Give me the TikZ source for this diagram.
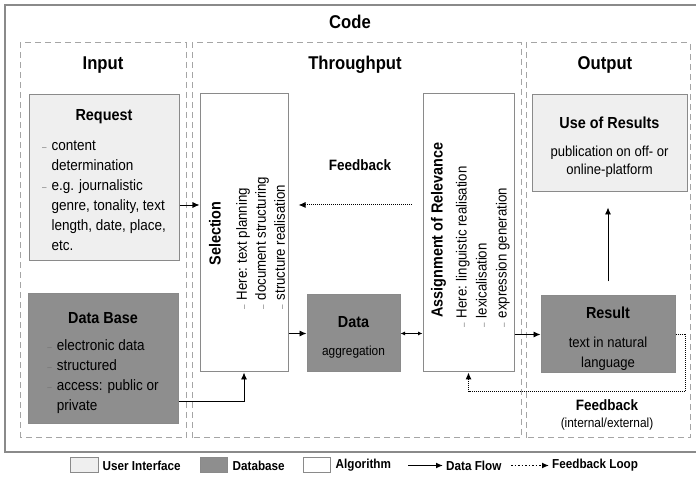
\documentclass[tikz,border=0pt]{standalone}
\usepackage{fontspec}
\setmainfont[FakeStretch=0.9]{Liberation Sans}
\usetikzlibrary{positioning, arrows, arrows.meta, shapes}

\definecolor{uiGray}{HTML}{EFEFEF}
\definecolor{dbGray}{HTML}{8E8E8E}
\definecolor{lineGray}{HTML}{8A8A8A}
\definecolor{dashGray}{HTML}{A5A5A5}

\newcommand{\headFont}{\fontsize{16}{19}\selectfont\bfseries}
\newcommand{\bodyFont}{\fontsize{15}{20}\selectfont}
\newcommand{\itemDash}{{\color{black!55}\small\textendash}}

\tikzstyle{uiRectangle} = [
    rectangle,
    draw=lineGray,
    fill=uiGray,
    line width=1pt,
    inner sep=0pt
    ]
\tikzstyle{dbRectangle} = [
    rectangle,
    draw=lineGray,
    fill=dbGray,
    line width=1pt,
    inner sep=0pt
    ]
\tikzstyle{algoRectangle} = [
    rectangle,
    draw=lineGray,
    fill=white,
    line width=1pt,
    inner sep=0pt
    ]
\tikzstyle{boxText} = [
    align=center,
    inner sep=0pt
    ]
\tikzstyle{groupFrame} = [
    draw=dashGray,
    line width=1pt,
    dash pattern=on 6pt off 4pt
    ]
\tikzstyle{titleText} = [
    font=\fontsize{18.5}{22}\selectfont\bfseries
    ]
\tikzstyle{dataFlow} = [
    draw,
    line width=0.9pt,
    ->
    ]
\tikzstyle{feedbackFlow} = [
    draw,
    line width=1pt,
    densely dotted,
    ->
    ]

\begin{document}
\begin{tikzpicture}[x=1pt, y=1pt, >={Latex[length=7pt, width=6pt]}]
    \useasboundingbox (0,0) rectangle (696,478);
    \draw[lineGray, line width=1.5pt] (5,26) rectangle (702,473);
    \node[titleText] at (350,456) (codeTitle) {Code};

    % phases
    \draw[groupFrame] (20,40) rectangle (186,435);
    \draw[groupFrame] (192,40) rectangle (521,435);
    \draw[groupFrame] (526,40) rectangle (690,435);
    \node[titleText] at (103,413) (inputTitle) {Input};
    \node[titleText] at (355,413) (throughputTitle) {Throughput};
    \node[titleText] at (605,413) (outputTitle) {Output};

    % input
    \node[uiRectangle, minimum width=150pt, minimum height=166pt] at (104,300) (request) {};
    \node[boxText] at ([yshift=-5pt]request.center) (requestText)
        {{\headFont Request}\\[12pt]
         {\bodyFont\begin{tabular}[t]{@{}l@{\hspace{5pt}}l@{}}
            \itemDash & content\\
                      & determination\\
            \itemDash & e.g. journalistic\\
                      & genre, tonality, text\\
                      & length, date, place,\\
                      & etc.
         \end{tabular}}};
    \node[dbRectangle, minimum width=150pt, minimum height=130pt] at (103,119) (database) {};
    \node[boxText] at ([yshift=-5.5pt]database.center) (databaseText)
        {{\headFont Data Base}\\[12pt]
         {\bodyFont\begin{tabular}[t]{@{}l@{\hspace{5pt}}l@{}}
            \itemDash & electronic data\\
            \itemDash & structured\\
            \itemDash & access: public or\\
                      & private
         \end{tabular}}};

    % throughput
    \node[algoRectangle, minimum width=88pt, minimum height=278pt] at (244,245) (selection) {};
    \node[rotate=90, font=\headFont] at (215,244.5) (selectionTitle) {Selection};
    \node[rotate=90, anchor=west, inner sep=0pt] at (262,168) (selectionList)
        {\fontsize{14.7}{19}\selectfont\begin{tabular}{@{}l@{\hspace{5pt}}l@{}}
            \itemDash & Here: text planning\\
            \itemDash & document structuring\\
            \itemDash & structure realisation
         \end{tabular}};
    \node[dbRectangle, minimum width=93pt, minimum height=77pt] at (353.5,144.5) (data) {};
    \node[boxText] at ([yshift=-4pt]data.center) (dataText)
        {{\headFont Data}\\[16pt]
         {\fontsize{13.2}{15}\selectfont aggregation}};
    \node[algoRectangle, minimum width=91pt, minimum height=278pt] at (468.5,245) (assignment) {};
    \node[rotate=90, font=\headFont] at (438.5,248) (assignmentTitle) {Assignment of Relevance};
    \node[rotate=90, anchor=west, inner sep=0pt] at (482.5,150) (assignmentList)
        {\fontsize{14.7}{20}\selectfont\begin{tabular}{@{}l@{\hspace{5pt}}l@{}}
            \itemDash & Here: linguistic realisation\\
            \itemDash & lexicalisation\\
            \itemDash & expression generation
         \end{tabular}};
    \node[font=\fontsize{15}{18}\selectfont\bfseries] at (360,313) (feedbackTop) {Feedback};

    % output
    \node[uiRectangle, minimum width=155pt, minimum height=97pt] at (609.5,334.5) (useResults) {};
    \node[boxText] at ([yshift=-5pt]useResults.center) (useResultsText)
        {{\headFont Use of Results}\\[14pt]
         {\fontsize{14.5}{18}\selectfont\begin{tabular}[t]{@{}c@{}}
            publication on off- or\\ online-platform
         \end{tabular}}};
    \node[dbRectangle, minimum width=134pt, minimum height=77pt] at (608,143.5) (result) {};
    \node[boxText] at ([yshift=-6pt]result.center) (resultText)
        {{\headFont Result}\\[14pt]
         {\fontsize{14.5}{20}\selectfont\begin{tabular}[t]{@{}c@{}}
            text in natural\\ language
         \end{tabular}}};
    \node[font=\fontsize{15}{18}\selectfont\bfseries, align=center] at (607,63) (feedbackBottom)
        {Feedback\\[-1pt] {\normalfont\fontsize{13.2}{15}\selectfont (internal/external)}};

    % connectors
    \draw[dataFlow] ([yshift=-27pt]request.east) -- ([yshift=-27pt]request.east -| selection.west);
    \draw[feedbackFlow, shorten <=11pt, shorten >=10pt] ([yshift=28pt]assignment.west) -- ([yshift=28pt]assignment.west -| selection.east);
    \draw[dataFlow] ([yshift=-42pt]database.east) -| (selection.south);
    \draw[dataFlow] (selection.east |- data.west) -- (data.west);
    \draw[line width=0.8pt, {Latex[length=4.5pt, width=4pt]}-{Latex[length=4.5pt, width=4pt]}] (data.east) -- (data.east -| assignment.west);
    \draw[dataFlow] (result.west -| assignment.east) -- (result.west);
    \draw[dataFlow, shorten <=14pt, shorten >=15pt] (result.north) -- (result.north |- useResults.south);
    \draw[feedbackFlow] (result.east) -- ++(10pt,0) -- ++(0,-57.5pt) -| (assignment.south);

    % legend
    \node[uiRectangle, minimum width=28pt, minimum height=15pt] at (84,12.5) (legendUi) {};
    \node[right=4pt of legendUi, inner sep=0pt, font=\fontsize{13}{15}\selectfont\bfseries] (legendUiText) {User Interface};
    \node[dbRectangle, minimum width=27pt, minimum height=15pt] at (213.5,12.5) (legendDb) {};
    \node[right=5pt of legendDb, inner sep=0pt, font=\fontsize{13}{15}\selectfont\bfseries] (legendDbText) {Database};
    \node[algoRectangle, minimum width=27pt, minimum height=15pt] at (316.5,12.5) (legendAlgo) {};
    \node[right=5pt of legendAlgo, inner sep=0pt, font=\fontsize{13}{15}\selectfont\bfseries] (legendAlgoText) {Algorithm};
    \coordinate (flowStart) at (408,12.5);
    \node[inner sep=0pt, anchor=west, font=\fontsize{13}{15}\selectfont\bfseries] at (446,12.5) (legendFlowText) {Data Flow};
    \draw[dataFlow, line width=1.5pt] (flowStart) -- ([xshift=-3pt]legendFlowText.west);
    \coordinate (loopStart) at (511,12.5);
    \node[inner sep=0pt, anchor=west, font=\fontsize{13}{15}\selectfont\bfseries] at (552,12.5) (legendLoopText) {Feedback Loop};
    \draw[feedbackFlow, line width=1.5pt, dotted] (loopStart) -- ([xshift=-3pt]legendLoopText.west);
\end{tikzpicture}
\end{document}
